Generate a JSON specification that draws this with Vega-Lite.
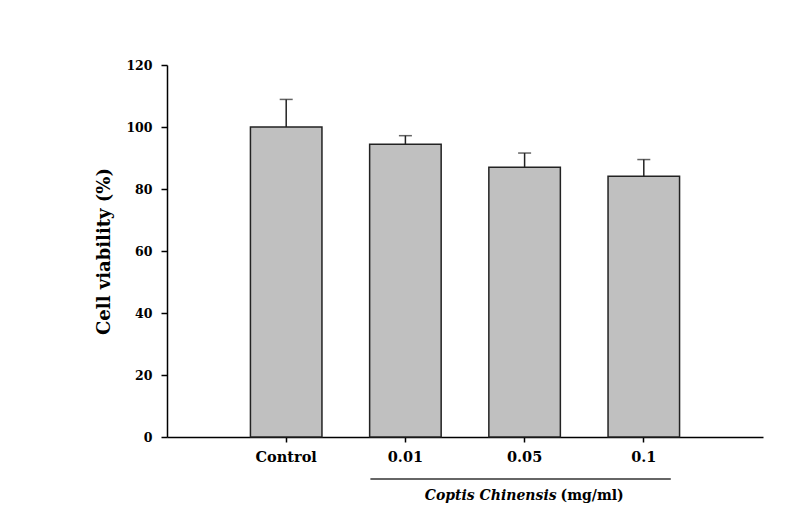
{
  "$schema": "https://vega.github.io/schema/vega-lite/v6.json",
  "width": 596,
  "height": 372,
  "autosize": "none",
  "padding": {"left": 167, "top": 65, "right": 24, "bottom": 92},
  "background": "white",
  "config": {
    "view": {"stroke": null},
    "font": "DejaVu Serif",
    "axis": {
      "domainColor": "black", "domainWidth": 1.5, "tickColor": "black", "tickWidth": 1.5,
      "labelColor": "black", "labelFont": "DejaVu Serif", "labelFontWeight": "bold",
      "titleColor": "black", "titleFont": "DejaVu Serif", "titleFontWeight": "bold", "grid": false
    }
  },
  "layer": [
    {
      "data": {"values": [
        {"group": "Control", "mean": 100, "upper": 108.9},
        {"group": "0.01", "mean": 94.4, "upper": 97.2},
        {"group": "0.05", "mean": 87.0, "upper": 91.6},
        {"group": "0.1", "mean": 84.1, "upper": 89.5}
      ]},
      "encoding": {
        "x": {"field": "group", "type": "nominal",
          "scale": {"domain": ["Control", "0.01", "0.05", "0.1"], "paddingInner": 0.4, "paddingOuter": 0.7},
          "axis": {"title": null, "labelAngle": 0, "tickSize": 5, "labelPadding": 8, "labelFontSize": 14.5, "labelDx": 5}}
      },
      "layer": [
        {
          "mark": {"type": "bar", "fill": "#c0c0c0", "stroke": "#222222", "strokeWidth": 1.5},
          "encoding": {
            "y": {"field": "mean", "type": "quantitative",
              "scale": {"domain": [0, 120]},
              "axis": {"title": "Cell viability (%)", "values": [0, 20, 40, 60, 80, 100, 120],
                "tickSize": 6, "labelPadding": 9, "labelFontSize": 12.5, "titleFontSize": 18, "titlePadding": 12}}
          }
        },
        {
          "mark": {"type": "rule", "stroke": "#222222", "strokeWidth": 1.5},
          "encoding": {"y": {"field": "mean", "type": "quantitative"}, "y2": {"field": "upper"}}
        },
        {
          "mark": {"type": "tick", "orient": "horizontal", "size": 13, "thickness": 1.5, "color": "#222222"},
          "encoding": {"y": {"field": "upper", "type": "quantitative"}}
        }
      ]
    },
    {
      "data": {"values": [
        {"from": "0.01", "to": "0.1", "mid": "0.05", "label1": "Coptis Chinensis", "label2": "(mg/ml)"}
      ]},
      "layer": [
        {
          "mark": {"type": "rule", "stroke": "#333333", "strokeWidth": 1.5, "xOffset": -35, "x2Offset": 27, "yOffset": 42},
          "encoding": {
            "x": {"field": "from", "type": "nominal", "scale": {"domain": ["Control", "0.01", "0.05", "0.1"]}},
            "x2": {"field": "to"},
            "y": {"datum": 0, "type": "quantitative"}
          }
        },
        {
          "mark": {"type": "text", "font": "DejaVu Serif", "fontSize": 14, "fontWeight": "bold", "fontStyle": "italic",
            "align": "right", "baseline": "alphabetic", "dx": 32, "yOffset": 63, "color": "black"},
          "encoding": {
            "x": {"field": "mid", "type": "nominal"},
            "y": {"datum": 0, "type": "quantitative"},
            "text": {"field": "label1"}
          }
        },
        {
          "mark": {"type": "text", "font": "DejaVu Serif", "fontSize": 14, "fontWeight": "bold",
            "align": "left", "baseline": "alphabetic", "dx": 36, "yOffset": 63, "color": "black"},
          "encoding": {
            "x": {"field": "mid", "type": "nominal"},
            "y": {"datum": 0, "type": "quantitative"},
            "text": {"field": "label2"}
          }
        }
      ]
    }
  ]
}
